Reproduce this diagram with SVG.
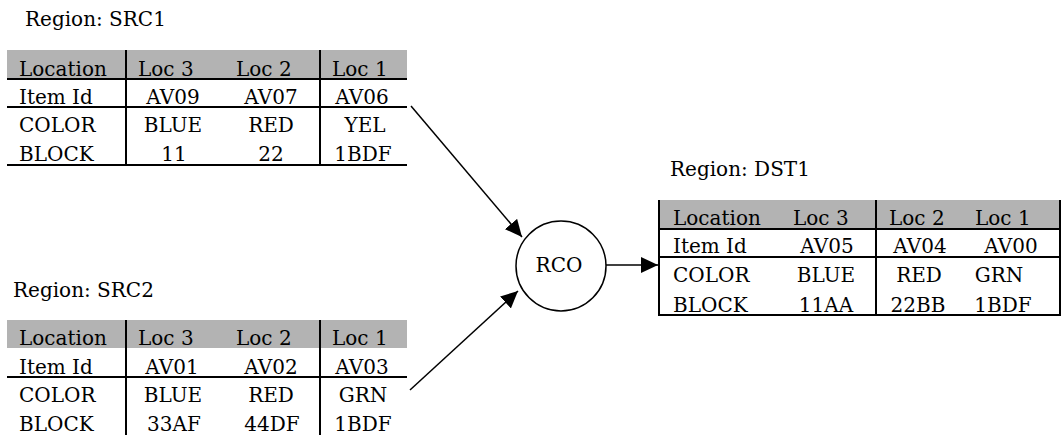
<svg xmlns="http://www.w3.org/2000/svg" width="1063" height="435" viewBox="0 0 1063 435">
<defs>
<style>
text{font-family:"DejaVu Serif",serif;font-size:20px;fill:#000}
.m{text-anchor:middle}
.hdr{fill:#b3b3b3}
.ln{stroke:#000;stroke-width:2;fill:none}
.con{stroke:#000;stroke-width:1.5;fill:none}
</style>
<marker id="ah" markerUnits="userSpaceOnUse" markerWidth="18" markerHeight="18" viewBox="0 0 18 18" refX="17" refY="9" orient="auto">
<path d="M0,1 L17,9 L0,17 Z" fill="#000"/>
</marker>
</defs>
<rect width="1063" height="435" fill="#fff"/>
<g id="src1">
<text x="25" y="26">Region: SRC1</text>
<rect class="hdr" x="7" y="50" width="400" height="29"/>
<path class="ln" d="M7,79H407M7,107H407M7,165H407M126,50V165M320,50V165"/>
<text x="19" y="76">Location</text>
<text x="138" y="76">Loc 3</text>
<text x="236" y="76">Loc 2</text>
<text x="332" y="76">Loc 1</text>
<text x="19" y="104">Item Id</text>
<text class="m" x="173" y="104">AV09</text>
<text class="m" x="271" y="104">AV07</text>
<text class="m" x="362" y="104">AV06</text>
<text x="19" y="132">COLOR</text>
<text class="m" x="173" y="132">BLUE</text>
<text class="m" x="271" y="132">RED</text>
<text class="m" x="365" y="132">YEL</text>
<text x="19" y="161">BLOCK</text>
<text class="m" x="174" y="161">11</text>
<text class="m" x="271" y="161">22</text>
<text class="m" x="363" y="161">1BDF</text>
</g>

<g id="src2">
<text x="13" y="297">Region: SRC2</text>
<rect class="hdr" x="7" y="320" width="400" height="28"/>
<path class="ln" d="M7,377H407M126,320V435M320,320V435"/>
<text x="19" y="345">Location</text>
<text x="138" y="345">Loc 3</text>
<text x="236" y="345">Loc 2</text>
<text x="332" y="345">Loc 1</text>
<text x="19" y="374">Item Id</text>
<text class="m" x="172" y="374">AV01</text>
<text class="m" x="271" y="374">AV02</text>
<text class="m" x="362" y="374">AV03</text>
<text x="19" y="402">COLOR</text>
<text class="m" x="173" y="402">BLUE</text>
<text class="m" x="271" y="402">RED</text>
<text class="m" x="363" y="402">GRN</text>
<text x="19" y="431">BLOCK</text>
<text class="m" x="174" y="431">33AF</text>
<text class="m" x="272" y="431">44DF</text>
<text class="m" x="363" y="431">1BDF</text>
</g>

<g id="rco">
<circle cx="561" cy="266" r="45" fill="#fff" stroke="#000" stroke-width="1.5"/>
<text class="m" x="559" y="272">RCO</text>
</g>

<g id="dst1">
<text x="670" y="176">Region: DST1</text>
<rect class="hdr" x="659" y="200" width="401" height="29"/>
<path class="ln" d="M659,200V315H1060V200M659,229H1060M659,257H1060M876,200V315"/>
<text x="673" y="225">Location</text>
<text x="793" y="225">Loc 3</text>
<text x="889" y="225">Loc 2</text>
<text x="975" y="225">Loc 1</text>
<text x="673" y="253">Item Id</text>
<text class="m" x="827" y="253">AV05</text>
<text class="m" x="920" y="253">AV04</text>
<text class="m" x="1011" y="253">AV00</text>
<text x="673" y="282">COLOR</text>
<text class="m" x="826" y="282">BLUE</text>
<text class="m" x="919" y="282">RED</text>
<text class="m" x="999" y="282">GRN</text>
<text x="673" y="312">BLOCK</text>
<text class="m" x="826" y="312">11AA</text>
<text class="m" x="918" y="312">22BB</text>
<text class="m" x="1003" y="312">1BDF</text>
</g>
<g id="connectors">
<line class="con" x1="411" y1="106" x2="522" y2="237" marker-end="url(#ah)"/>
<line class="con" x1="410" y1="390" x2="518" y2="291" marker-end="url(#ah)"/>
<line class="con" x1="606" y1="265" x2="658" y2="265" marker-end="url(#ah)"/>
</g>
</svg>
